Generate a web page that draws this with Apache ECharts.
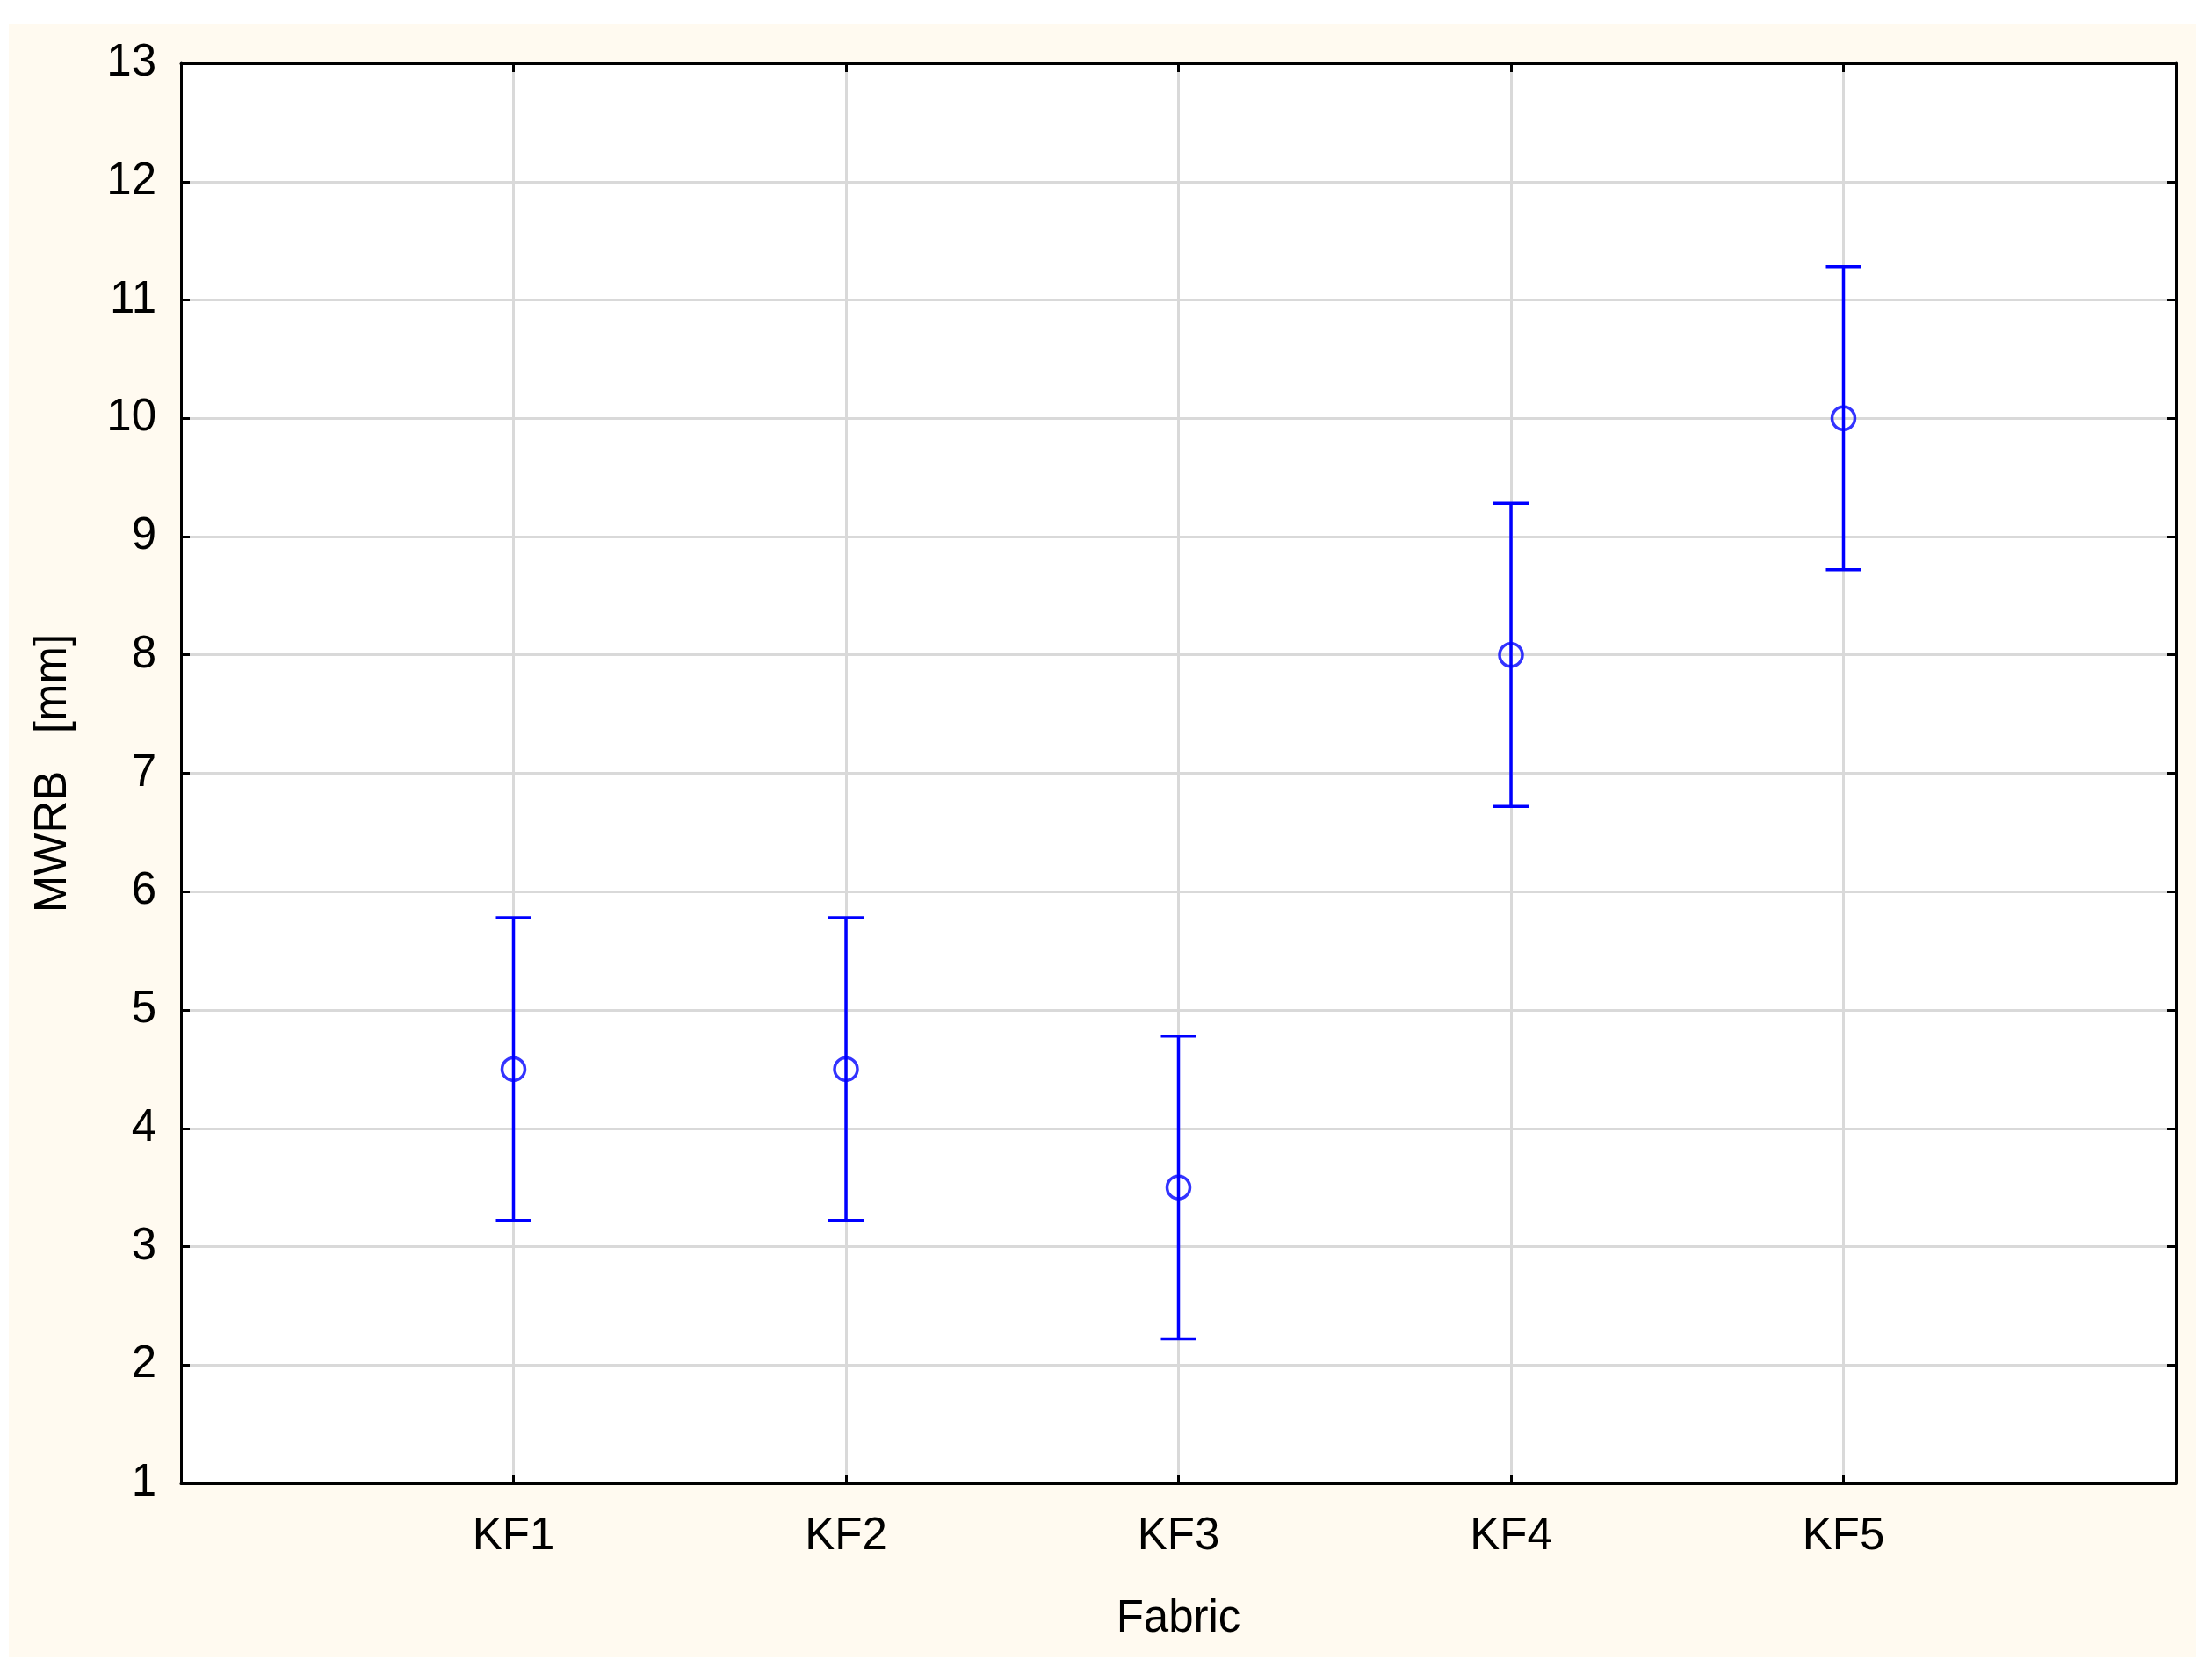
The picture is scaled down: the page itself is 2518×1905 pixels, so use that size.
<!DOCTYPE html>
<html>
<head>
<meta charset="utf-8">
<script src="https://cdn.jsdelivr.net/npm/echarts@6/dist/echarts.min.js"></script>
<style>
html,body{margin:0;padding:0;background:#ffffff;width:2518px;height:1905px;overflow:hidden;}
#bg{position:absolute;left:10px;top:27px;width:2490px;height:1860px;background:#FFFAF0;}
#chart{position:absolute;left:0;top:0;width:2518px;height:1905px;}
</style>
</head>
<body>
<div id="bg"></div>
<div id="chart"></div>
<script>
const categories = ['', 'KF1', 'KF2', 'KF3', 'KF4', 'KF5', ''];
const fabrics = ['KF1', 'KF2', 'KF3', 'KF4', 'KF5'];
const means = [4.5, 4.5, 3.5, 8.0, 10.0];
const lower = [3.22, 3.22, 2.22, 6.72, 8.72];
const upper = [5.78, 5.78, 4.78, 9.28, 11.28];
const yTicks = { min: 1, max: 13, interval: 1 };

const FONT = 'Liberation Sans, Arial, sans-serif';
const FS = 51;
const BLUE = '#0000FF';

const pointData = fabrics.map((f, i) => [f, means[i]]);
const barData = fabrics.map((f, i) => [f, lower[i], upper[i]]);

const chart = echarts.init(document.getElementById('chart'), null, { renderer: 'canvas' });

const commonTick = { show: true, inside: true, length: 10, lineStyle: { color: '#000', width: 3 } };
const axisLine = { show: true, onZero: false, lineStyle: { color: '#000', width: 3 } };

chart.setOption({
  backgroundColor: 'transparent',
  animation: false,
  grid: {
    left: 206, top: 72, right: 41, bottom: 216,
    show: true, backgroundColor: '#ffffff', borderWidth: 0
  },
  xAxis: [{
    type: 'category',
    data: categories,
    boundaryGap: false,
    position: 'bottom',
    axisLine: axisLine,
    axisTick: Object.assign({ interval: 0 }, commonTick),
    axisLabel: { interval: 0, margin: 35, color: '#000', fontSize: FS, fontFamily: FONT },
    splitLine: { show: true, interval: 0, lineStyle: { color: '#d9d9d9', width: 3 } },
    name: 'Fabric',
    nameLocation: 'middle',
    nameGap: 129,
    nameTextStyle: { color: '#000', fontSize: FS, fontFamily: FONT }
  }, {
    type: 'category',
    data: categories,
    boundaryGap: false,
    position: 'top',
    axisLine: axisLine,
    axisTick: Object.assign({ interval: 0 }, commonTick),
    axisLabel: { show: false },
    splitLine: { show: false }
  }],
  yAxis: [{
    type: 'value',
    min: yTicks.min, max: yTicks.max, interval: yTicks.interval,
    position: 'left',
    axisLine: axisLine,
    axisTick: commonTick,
    axisLabel: { margin: 28, color: '#000', fontSize: FS, fontFamily: FONT },
    splitLine: { show: true, lineStyle: { color: '#d9d9d9', width: 3 } },
    name: 'MWRB   [mm]',
    nameLocation: 'middle',
    nameGap: 120,
    nameRotate: 90,
    nameTextStyle: { color: '#000', fontSize: FS, fontFamily: FONT }
  }, {
    type: 'value',
    min: yTicks.min, max: yTicks.max, interval: yTicks.interval,
    position: 'right',
    axisLine: axisLine,
    axisTick: commonTick,
    axisLabel: { show: false },
    splitLine: { show: false }
  }],
  series: [{
    type: 'custom',
    xAxisIndex: 0, yAxisIndex: 0,
    data: barData,
    encode: { x: 0, y: [1, 2] },
    z: 3,
    renderItem: function (params, api) {
      const x = api.value(0);
      const lo = api.coord([x, api.value(1)]);
      const hi = api.coord([x, api.value(2)]);
      const hw = 20;
      const st = { stroke: BLUE, lineWidth: 3.5, fill: null };
      return {
        type: 'group',
        children: [
          { type: 'line', shape: { x1: lo[0], y1: lo[1], x2: hi[0], y2: hi[1] }, style: st },
          { type: 'line', shape: { x1: lo[0] - hw, y1: lo[1], x2: lo[0] + hw, y2: lo[1] }, style: st },
          { type: 'line', shape: { x1: hi[0] - hw, y1: hi[1], x2: hi[0] + hw, y2: hi[1] }, style: st }
        ]
      };
    }
  }, {
    type: 'scatter',
    xAxisIndex: 0, yAxisIndex: 0,
    data: pointData,
    symbol: 'circle',
    symbolSize: 26,
    z: 4,
    itemStyle: { color: 'rgba(0,0,0,0)', borderColor: BLUE, borderWidth: 3.5 }
  }]
});
</script>
</body>
</html>
